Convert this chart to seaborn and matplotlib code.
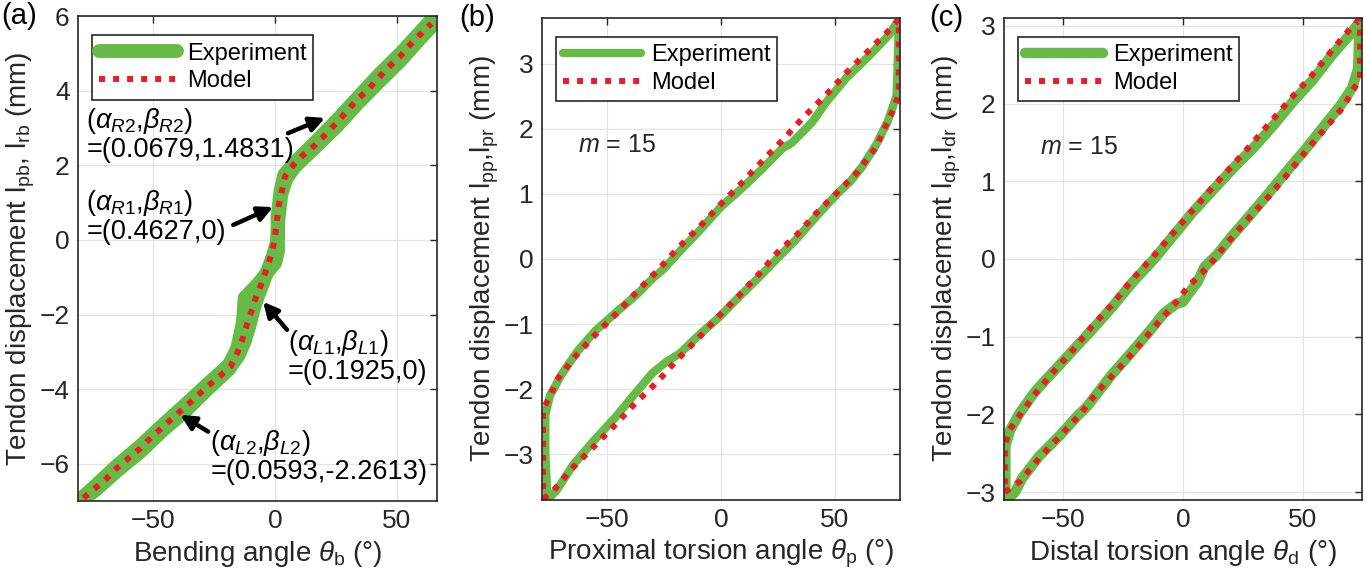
import matplotlib
matplotlib.use('Agg')
import matplotlib.pyplot as plt
import seaborn as sns

# ---- panel (a): bending ----
a_model_x = [-78.7, -73.8, -69.3, -64.9, -60.1, -55.3, -50.8, -46.2, -41.7, -36.9, -32.4, -28.0,
             -23.2, -18.4, -15.7, -13.6, -11.6, -9.5, -7.5, -5.5, -3.4, -1.4, 0.0, 0.7, 1.4, 2.7,
             4.1, 7.5, 11.6, 16.4, 20.5, 25.3, 29.4, 33.5, 38.3, 42.3, 46.4, 51.2, 55.3, 59.7, 64.2]
a_model_y = [-6.92, -6.65, -6.40, -6.11, -5.85, -5.58, -5.29, -5.02, -4.75, -4.48, -4.21, -3.94,
             -3.68, -3.41, -3.05, -2.70, -2.28, -1.87, -1.47, -1.16, -0.76, -0.36, 0.09, 0.49, 0.89, 1.29,
             1.70, 2.01, 2.28, 2.54, 2.81, 3.14, 3.44, 3.75, 4.03, 4.33, 4.62, 4.91, 5.22, 5.51, 5.80]
a_exp_x = [-80, -74, -65, -55, -46, -37, -28, -19, -15, -12.5, -10.5, -9, -7, -5, -3, -1, 0.8, 1.3,
           2.5, 4.5, 8, 16.5, 25.5, 34, 42.5, 51.5, 60, 65.5,
           65.5, 60, 51.5, 42.5, 34, 25.5, 16.5, 8, 3.8, 2.2, 1.0, 1.2, 0, -3, -6, -9.5, -12.5, -13.2,
           -15.5, -19, -28, -37, -46, -55, -65, -74, -80]
a_exp_y = [-7.0, -6.72, -6.2, -5.66, -5.1, -4.6, -4.02, -3.47, -3.1, -2.72, -2.3, -1.9, -1.5, -1.17,
           -0.8, -0.45, -0.05, 0.5, 1.2, 1.62, 1.95, 2.48, 3.05, 3.66, 4.22, 4.8, 5.42, 5.8,
           6.0, 5.6, 5.0, 4.42, 3.82, 3.22, 2.62, 2.07, 1.75, 1.3, 0.6, -0.3, -0.62, -0.85, -1.1, -1.35,
           -1.55, -2.2, -2.9, -3.35, -3.88, -4.42, -4.95, -5.5, -6.05, -6.6, -6.95]

# ---- panel (b): proximal torsion ----
b_model_x = [-78, -74, -65.4, -56, -46.5, -37.7, -28, -19.3, -10, -1.3, 8.3, 17, 24.5, 33.3, 42, 51.3,
             60, 68.3, 72.8, 76.3, 78, 78, 74, 64.5, 55, 45.6, 36, 27.2, 18, 9.2, 0.4, -9.2, -18.8,
             -27.6, -36.8, -45.6, -55.3, -64, -72, -75, -78, -78]
b_model_y = [-3.68, -3.58, -3.22, -2.89, -2.55, -2.22, -1.89, -1.55, -1.22, -0.89, -0.55, -0.22, 0.09,
             0.37, 0.71, 1.03, 1.34, 1.73, 2.09, 2.34, 2.55, 3.68, 3.52, 3.19, 2.86, 2.5, 2.17, 1.83, 1.5,
             1.17, 0.86, 0.5, 0.17, -0.17, -0.5, -0.83, -1.17, -1.5, -1.86, -2.12, -2.3, -3.68]
b_exp_x = [-76, -72, -65, -56, -46, -38, -30, -24, -18, -10, -1, 8, 17, 25, 33, 42, 51, 57, 62, 68, 73,
           77, 77.5, 78,
           74, 65, 55, 46, 40, 35, 31, 27, 18, 9, 0, -9, -18, -25, -30, -37, -46, -55, -63, -70, -75,
           -77, -77, -76]
b_exp_y = [-3.7, -3.55, -3.17, -2.8, -2.42, -2.08, -1.75, -1.58, -1.45, -1.18, -0.9, -0.58, -0.27, 0.02,
           0.3, 0.66, 1.0, 1.2, 1.42, 1.75, 2.1, 2.5, 3.0, 3.68,
           3.45, 3.12, 2.78, 2.4, 2.1, 1.92, 1.78, 1.7, 1.38, 1.08, 0.8, 0.45, 0.12, -0.15, -0.3, -0.55,
           -0.82, -1.1, -1.42, -1.78, -2.1, -2.4, -3.0, -3.7]

# ---- panel (c): distal torsion ----
c_model_x = [-74.2, -67.9, -59.6, -51.3, -42.9, -35.4, -27.1, -18.8, -10.4, -2.1, 1.7, 10.4, 18.3, 26.7,
             35, 43.3, 50.8, 59.2, 66.7, 70.8, 73.8, 73.8,
             72.9, 69.6, 62, 53.7, 45.4, 37, 29.2, 20.8, 12, 4.2, -4.2, -12.5, -21.3, -29.6, -38, -45.8,
             -54, -61.7, -69.2, -72.9, -74.2, -74.2]
c_model_y = [-3.0, -2.86, -2.55, -2.28, -2.0, -1.7, -1.42, -1.13, -0.82, -0.53, -0.37, -0.1, 0.2, 0.5,
             0.78, 1.08, 1.37, 1.68, 1.95, 2.17, 2.32, 3.06,
             3.06, 2.96, 2.68, 2.36, 2.08, 1.78, 1.5, 1.21, 0.91, 0.63, 0.33, 0.03, -0.27, -0.59, -0.87,
             -1.17, -1.45, -1.74, -2.06, -2.23, -2.41, -3.0]
c_exp_x = [-73.5, -70, -67, -60, -51, -44, -40, -36, -30, -22, -14, -8, -3, 0, 3, 6, 9, 14, 20, 27, 35,
           43, 51, 59, 66, 70.5, 73, 73.5,
           73.5, 70, 62, 54, 46, 38, 30, 21, 12, 4, -4, -12, -21, -29, -37, -46, -54, -58, -62, -68, -72,
           -74, -74, -73.5]
c_exp_y = [-3.1, -3.0, -2.82, -2.54, -2.26, -2.02, -1.9, -1.74, -1.5, -1.22, -0.93, -0.7, -0.58, -0.55,
           -0.42, -0.3, -0.1, 0.05, 0.28, 0.53, 0.82, 1.12, 1.41, 1.72, 1.99, 2.2, 2.45, 3.0,
           3.05, 2.9, 2.62, 2.3, 2.03, 1.73, 1.45, 1.17, 0.87, 0.6, 0.3, 0.0, -0.3, -0.6, -0.88, -1.18,
           -1.45, -1.58, -1.72, -1.98, -2.2, -2.4, -3.0, -3.1]

GREEN = '#66bb46'
RED = '#ec1c24'
DARK = '#262626'

sns.set_theme(style='whitegrid')
plt.rcParams['font.family'] = ['Liberation Sans', 'DejaVu Sans']
plt.rcParams['mathtext.fontset'] = 'custom'
plt.rcParams['mathtext.rm'] = 'Liberation Sans'
plt.rcParams['mathtext.it'] = 'Liberation Sans:italic'
plt.rcParams['mathtext.bf'] = 'Liberation Sans:bold'

TICK_FS = 19
LAB_FS = 20
LEG_FS = 17
NOTE_FS = 19.5

fig = plt.figure(figsize=(13.65, 5.86), dpi=100)
axa = fig.add_axes([0.0571, 0.145, 0.263, 0.8276])
axb = fig.add_axes([0.397, 0.1468, 0.2623, 0.8225])
axc = fig.add_axes([0.7355, 0.1468, 0.2623, 0.8225])

panels = [
    (axa, a_exp_x, a_exp_y, a_model_x, a_model_y, 10, (-81, 66.5), (-7, 6), [-6, -4, -2, 0, 2, 4, 6],
     r'Bending angle $\theta_{\mathrm{b}}$ (°)', r'Tendon displacement l$_{\mathrm{pb}}$, l$_{\mathrm{rb}}$ (mm)', '(a)', -0.215),
    (axb, b_exp_x, b_exp_y, b_model_x, b_model_y, 6, (-78.5, 78.5), (-3.7, 3.7), [-3, -2, -1, 0, 1, 2, 3],
     r'Proximal torsion angle $\theta_{\mathrm{p}}$ (°)', r'Tendon displacement l$_{\mathrm{pp}}$,l$_{\mathrm{pr}}$ (mm)', '(b)', -0.23),
    (axc, c_exp_x, c_exp_y, c_model_x, c_model_y, 7.5, (-74.6, 74.6), (-3.1, 3.1), [-3, -2, -1, 0, 1, 2, 3],
     r'Distal torsion angle $\theta_{\mathrm{d}}$ (°)', r'Tendon displacement l$_{\mathrm{dp}}$,l$_{\mathrm{dr}}$ (mm)', '(c)', -0.21),
]

for ax, ex, ey, mx, my, lw, xl, yl, yt, xlab, ylab, tag, tagx in panels:
    sns.lineplot(x=ex, y=ey, ax=ax, sort=False, estimator=None, color=GREEN, lw=lw,
                 label='Experiment', solid_capstyle='round', solid_joinstyle='round')
    sns.lineplot(x=mx, y=my, ax=ax, sort=False, estimator=None, color=RED, lw=4.3,
                 label='Model', dashes=False)
    ax.lines[-1].set_linestyle((0, (1, 1.35)))
    ax.set_xlim(*xl)
    ax.set_ylim(*yl)
    ax.set_xticks([-50, 0, 50])
    ax.set_yticks(yt)
    ax.set_facecolor('white')
    ax.grid(True, color='#e3e3e3', lw=0.9)
    for s in ax.spines.values():
        s.set_color(DARK)
        s.set_linewidth(1.2)
        s.set_visible(True)
    ax.tick_params(direction='in', length=5, width=1, color=DARK, labelsize=TICK_FS,
                   labelcolor=DARK, top=True, right=True, pad=6)
    ax.set_xlabel(xlab, fontsize=LAB_FS, color=DARK, labelpad=4)
    ax.set_ylabel(ylab, fontsize=LAB_FS, color=DARK, labelpad=2)
    leg = ax.legend(loc='upper left', bbox_to_anchor=(0.04, 0.96), fontsize=LEG_FS, frameon=True,
                    fancybox=False, framealpha=1, edgecolor=DARK, handlelength=3.3,
                    borderpad=0.3, labelspacing=0.25, handletextpad=0.4, borderaxespad=0)
    leg.get_frame().set_linewidth(1.2)
    for t in leg.get_texts():
        t.set_color('black')
    ax.text(tagx, 1.0, tag, transform=ax.transAxes, fontsize=21,
            ha='left', va='center', color='black')

axb.text(0.1, 0.737, r'$m$ = 15', transform=axb.transAxes, fontsize=LEG_FS + 1, va='center')
axc.text(0.1, 0.732, r'$m$ = 15', transform=axc.transAxes, fontsize=LEG_FS + 1, va='center')

arrow = dict(arrowstyle='-|>', color='black', lw=3.2, mutation_scale=22, shrinkA=0, shrinkB=0)
notes = [
    ('($\\alpha_{R2}$,$\\beta_{R2}$)\n=(0.0679,1.4831)', (20.5, 3.27), (5.3, 2.86), (-77.5, 3.6)),
    ('($\\alpha_{R1}$,$\\beta_{R1}$)\n=(0.4627,0)', (-0.8, 0.88), (-17.2, 0.4), (-77.5, 1.4)),
    ('($\\alpha_{L1}$,$\\beta_{L1}$)\n=(0.1925,0)', (-4.9, -1.66), (4.9, -2.41), (5.3, -2.36)),
    ('($\\alpha_{L2}$,$\\beta_{L2}$)\n=(0.0593,-2.2613)', (-38.9, -4.69), (-27.5, -5.14), (-26.6, -5.03)),
]
for txt, head, tail, pos in notes:
    axa.annotate('', xy=head, xytext=tail, arrowprops=arrow)
    axa.text(pos[0], pos[1], txt, fontsize=NOTE_FS, ha='left', va='top', color='black', linespacing=1.05)

fig.savefig('out.png', dpi=100)
